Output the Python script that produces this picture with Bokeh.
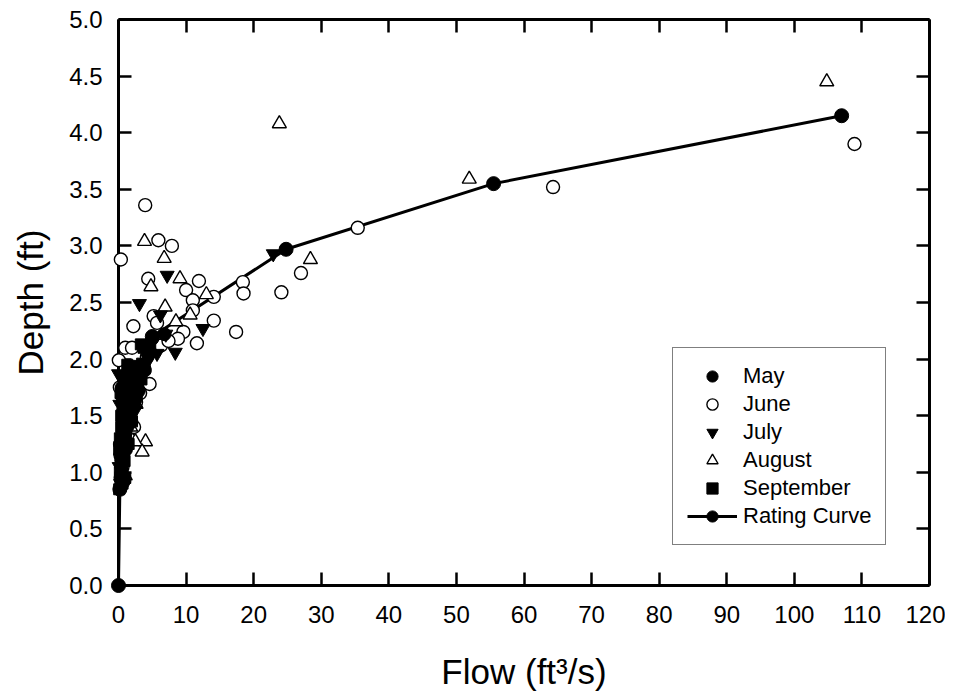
from bokeh.plotting import figure
from bokeh.models import (Range1d, FixedTicker, NumeralTickFormatter, LinearAxis,
                          Legend, LegendItem)
from bokeh.embed import file_html
from bokeh.resources import INLINE

FONT = "Liberation Sans"

# monthly field measurements (flow ft3/s, depth ft)
may_flow = [0.3, 0.4, 0.6, 0.8, 1.0, 1.3, 1.6, 2.0, 2.4, 2.9, 3.5, 4.3, 5.0, 6.8, 0.2, 0.7, 1.4,
            1.9, 2.6, 1.1, 0.5, 3.9, 3.0]
may_depth = [0.95, 1.05, 1.18, 1.30, 1.40, 1.50, 1.60, 1.70, 1.78, 1.86, 1.95, 2.05, 2.18, 2.22,
             1.25, 1.55, 1.85, 1.45, 1.65, 1.20, 1.75, 1.90, 1.72]

june_flow = [0.35, 3.95, 5.9, 7.9, 4.4, 11.9, 10.0, 14.1, 11.0, 18.4, 18.5, 24.1, 5.2, 2.2,
             5.7, 11.0, 14.1, 17.4, 9.6, 11.6, 0.05, 1.0, 2.0, 35.4, 64.3, 108.9, 27.0, 8.8,
             6.3, 4.6, 3.2, 2.6, 1.8, 1.3, 0.8, 0.5, 0.3, 0.2, 2.9, 3.8, 1.5, 0.9, 2.3, 1.1,
             0.6, 0.4, 4.2, 7.4]
june_depth = [2.88, 3.36, 3.05, 3.00, 2.71, 2.69, 2.61, 2.55, 2.52, 2.68, 2.58, 2.59, 2.38, 2.29,
              2.32, 2.43, 2.34, 2.24, 2.24, 2.14, 1.99, 2.10, 2.10, 3.16, 3.52, 3.90, 2.76, 2.18,
              2.12, 1.78, 1.70, 1.62, 1.55, 1.45, 1.35, 1.25, 1.15, 1.75, 1.88, 1.92, 1.30, 1.20,
              1.40, 1.60, 1.05, 0.98, 2.02, 2.16]

july_flow = [3.1, 7.2, 6.2, 12.5, 8.4, 22.9, 0.0, 7.0, 5.7, 0.3, 0.6, 1.0, 1.5, 2.2, 2.8,
             0.2, 1.2, 3.5, 4.5, 0.8, 0.4, 1.7, 2.5, 0.1]
july_depth = [2.49, 2.74, 2.39, 2.27, 2.06, 2.93, 1.87, 2.22, 2.05, 0.90, 1.10, 1.30, 1.50,
              1.65, 1.80, 1.60, 1.75, 1.85, 2.00, 0.88, 1.20, 1.40, 1.55, 1.05]

aug_flow = [23.8, 104.8, 51.9, 28.4, 3.85, 6.76, 9.1, 4.8, 13.0, 6.9, 8.5, 10.6, 4.0, 2.5,
            3.5, 1.0, 0.5, 1.8, 2.6]
aug_depth = [4.08, 4.45, 3.59, 2.88, 3.04, 2.89, 2.71, 2.64, 2.57, 2.46, 2.33, 2.39, 1.27, 1.27,
             1.18, 0.97, 1.10, 1.40, 1.60]

sep_flow = [3.3, 4.7, 2.0, 3.5, 3.7, 0.1, 0.3, 0.6, 0.2, 0.5, 0.9, 0.3, 0.7, 1.1, 0.4, 1.4,
            0.8, 1.8, 1.2, 2.2, 1.6, 2.6, 3.0, 0.5, 0.2, 1.0, 2.0, 0.1, 0.4, 0.8, 1.3, 2.4,
            0.6, 1.5, 2.8, 0.3, 3.4, 2.1]
sep_depth = [2.13, 2.12, 1.94, 1.96, 2.10, 0.85, 0.88, 0.90, 1.00, 1.05, 1.10, 1.15, 1.25, 1.35,
             1.40, 1.50, 1.55, 1.60, 1.70, 1.75, 1.80, 1.85, 1.90, 1.65, 1.30, 0.95, 1.45, 1.20,
             1.50, 1.80, 1.95, 1.62, 1.00, 1.25, 1.72, 1.70, 1.82, 1.88]

rating_flow = [0, 0.2, 0.5, 1.0, 1.8, 3.0, 5.0, 24.8, 55.5, 107.0]
rating_depth = [0, 0.85, 1.1, 1.4, 1.65, 1.9, 2.2, 2.97, 3.55, 4.15]

x_ticks = list(range(0, 121, 10))
y_ticks = [0.0, 0.5, 1.0, 1.5, 2.0, 2.5, 3.0, 3.5, 4.0, 4.5, 5.0]

p = figure(width=945, height=694, output_backend="svg", toolbar_location=None,
           x_range=Range1d(0, 120), y_range=Range1d(0, 5),
           min_border_left=118, min_border_right=16, min_border_top=19, min_border_bottom=109,
           x_axis_label="Flow (ft³/s)", y_axis_label="Depth (ft)")
p.outline_line_color = None
p.xgrid.visible = False
p.ygrid.visible = False
p.background_fill_color = "white"


def style_axis(ax, ticks, show_labels=True):
    ax.ticker = FixedTicker(ticks=ticks)
    ax.axis_line_width = 3
    ax.axis_line_color = "black"
    ax.major_tick_line_width = 2.5
    ax.major_tick_line_color = "black"
    ax.major_tick_in = 13
    ax.major_tick_out = 0
    ax.minor_tick_line_color = None
    ax.major_label_text_font = FONT
    ax.major_label_text_color = "black"
    ax.major_label_text_font_size = "24px"
    if not show_labels:
        # tick marks only on the top and right frame edges
        ax.major_label_overrides = {t: "" for t in ticks}
        ax.major_label_text_font_size = "6px"
        ax.major_label_standoff = 0
    ax.axis_label_text_font = FONT
    ax.axis_label_text_font_size = "35px"
    ax.axis_label_text_font_style = "normal"
    ax.axis_label_text_color = "black"


style_axis(p.xaxis[0], x_ticks)
style_axis(p.yaxis[0], y_ticks)
p.xaxis[0].major_label_standoff = 20
p.xaxis[0].axis_label_standoff = 26
p.yaxis[0].major_label_standoff = 16
p.yaxis[0].axis_label_standoff = 16
p.yaxis[0].formatter = NumeralTickFormatter(format="0.0")

top = LinearAxis()
style_axis(top, x_ticks, show_labels=False)
p.add_layout(top, "above")
right = LinearAxis()
style_axis(right, y_ticks, show_labels=False)
p.add_layout(right, "right")

r_line = p.line(rating_flow, rating_depth, line_color="black", line_width=3, level="overlay")

r_june = p.scatter(june_flow, june_depth, marker="circle", size=13, fill_color="white",
                   line_color="black", line_width=1.4, level="overlay")
r_aug = p.scatter(aug_flow, aug_depth, marker="triangle", size=14, fill_color="white",
                  line_color="black", line_width=1.4, level="overlay")
r_may = p.scatter(may_flow, may_depth, marker="circle", size=13, fill_color="black",
                  line_color="black", level="overlay")
r_july = p.scatter(july_flow, july_depth, marker="inverted_triangle", size=14, fill_color="black",
                   line_color="black", level="overlay")
r_sep = p.scatter(sep_flow, sep_depth, marker="square", size=11, fill_color="black",
                  line_color="black", level="overlay")
r_pts = p.scatter(rating_flow, rating_depth, marker="circle", size=14, fill_color="black",
                  line_color="black", level="overlay")

legend = Legend(items=[
    LegendItem(label="May", renderers=[r_may]),
    LegendItem(label="June", renderers=[r_june]),
    LegendItem(label="July", renderers=[r_july]),
    LegendItem(label="August", renderers=[r_aug]),
    LegendItem(label="September", renderers=[r_sep]),
    LegendItem(label="Rating Curve", renderers=[r_line, r_pts]),
], location=(554, 40))
legend.label_text_font = FONT
legend.label_text_font_size = "22px"
legend.label_text_color = "black"
legend.glyph_width = 50
legend.glyph_height = 28
legend.label_height = 28
legend.spacing = 0
legend.padding = 14
legend.label_standoff = 6
legend.border_line_color = "black"
legend.border_line_width = 1.5
legend.background_fill_alpha = 1.0
p.add_layout(legend, "center")

open("out.html", "w").write(file_html(p, INLINE))
